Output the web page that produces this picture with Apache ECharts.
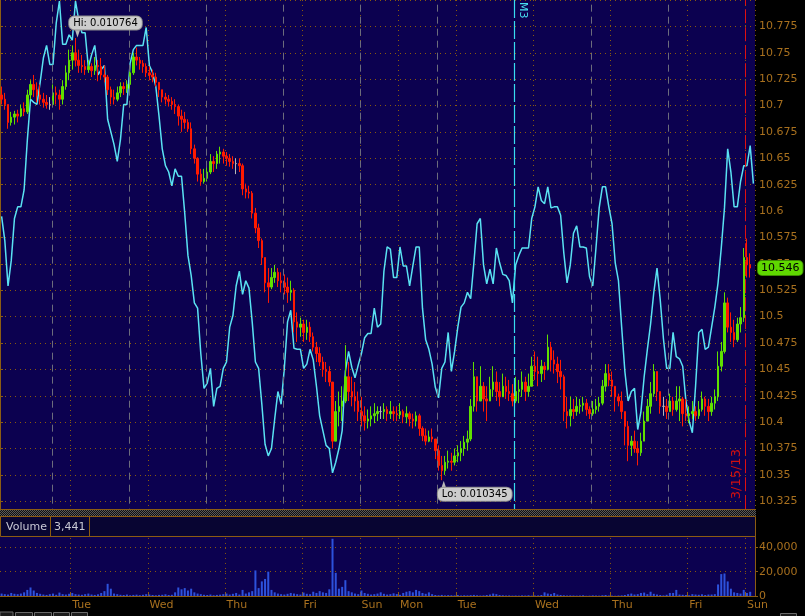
<!DOCTYPE html>
<html>
<head>
<meta charset="utf-8">
<script src="https://cdn.jsdelivr.net/npm/echarts@6.0.0/dist/echarts.min.js"></script>
<style>
html,body{margin:0;padding:0;background:#000;overflow:hidden;}
#chart{width:805px;height:616px;}
</style>
</head>
<body>
<div id="chart"></div>
<script>
// ---------------- data ----------------
const slotCount = 235;
const dayTickSlots = [22,46,70,94,112,124,142,166,190,214,232];
const dayNames = ['Tue','Wed','Thu','Fri','Sun','Mon','Tue','Wed','Thu','Fri','Sun'];
const sessionLines = [16.2,40.2,64.1,88.1,112.05,136.0,184.0,207.9];
const contractLine = 160.0;
const contractLabel = 'M3';
const expiryLine = 231.9;
const expiryLabel = '3/15/13';
const priceMin = 10.3, priceMax = 10.8, priceStep = 0.025;
const visibleBottom = 10.3175;
const volMax = 60000, volStep = 20000;

const open = [10.710,10.706,10.701,10.684,10.689,10.692,10.690,10.697,10.694,10.710,
10.720,10.715,10.710,10.706,10.703,10.701,10.701,10.712,10.710,10.706,
10.718,10.731,10.743,10.750,10.743,10.738,10.737,10.734,10.737,10.733,
10.738,10.737,10.729,10.727,10.715,10.708,10.706,10.712,10.718,10.716,
10.720,10.731,10.746,10.743,10.740,10.737,10.731,10.729,10.727,10.722,
10.715,10.708,10.706,10.704,10.701,10.699,10.690,10.687,10.684,10.678,
10.659,10.650,10.635,10.628,10.631,10.637,10.647,10.645,10.654,10.656,
10.652,10.650,10.647,10.645,10.645,10.643,10.621,10.618,10.617,10.598,
10.584,10.572,10.556,10.532,10.528,10.537,10.542,10.534,10.532,10.528,
10.523,10.525,10.495,10.490,10.493,10.485,10.490,10.481,10.471,10.465,
10.457,10.450,10.448,10.438,10.382,10.410,10.415,10.420,10.443,10.429,
10.424,10.420,10.410,10.406,10.401,10.403,10.406,10.408,10.410,10.410,
10.412,10.408,10.410,10.408,10.407,10.410,10.405,10.408,10.403,10.401,
10.406,10.394,10.387,10.382,10.386,10.384,10.373,10.359,10.354,10.362,
10.363,10.362,10.368,10.371,10.375,10.381,10.384,10.415,10.443,10.420,
10.434,10.422,10.420,10.431,10.438,10.429,10.424,10.434,10.429,10.427,
10.420,10.429,10.431,10.438,10.429,10.434,10.453,10.448,10.446,10.453,
10.450,10.471,10.459,10.455,10.448,10.443,10.410,10.406,10.412,10.410,
10.415,10.416,10.418,10.412,10.408,10.412,10.415,10.418,10.434,10.446,
10.440,10.434,10.424,10.420,10.410,10.396,10.378,10.382,10.375,10.371,
10.382,10.401,10.415,10.427,10.448,10.429,10.415,10.415,10.410,10.420,
10.412,10.420,10.422,10.408,10.406,10.408,10.410,10.406,10.412,10.422,
10.415,10.410,10.418,10.424,10.453,10.467,10.513,10.490,10.485,10.478,
10.493,10.499,10.556,10.549];

const close = [10.706,10.701,10.684,10.689,10.692,10.690,10.697,10.694,10.710,10.720,
10.715,10.710,10.706,10.703,10.701,10.701,10.712,10.710,10.706,10.718,
10.731,10.743,10.750,10.743,10.738,10.737,10.734,10.737,10.733,10.738,
10.737,10.729,10.727,10.715,10.708,10.706,10.712,10.718,10.716,10.720,
10.731,10.746,10.743,10.740,10.737,10.731,10.729,10.727,10.722,10.715,
10.708,10.706,10.704,10.701,10.699,10.690,10.687,10.684,10.678,10.659,
10.650,10.635,10.628,10.631,10.637,10.647,10.645,10.654,10.656,10.652,
10.650,10.647,10.645,10.645,10.643,10.621,10.618,10.617,10.598,10.584,
10.572,10.556,10.532,10.528,10.537,10.542,10.534,10.532,10.528,10.523,
10.525,10.495,10.490,10.493,10.485,10.490,10.481,10.471,10.465,10.457,
10.450,10.448,10.438,10.382,10.410,10.415,10.420,10.443,10.429,10.424,
10.420,10.410,10.406,10.401,10.403,10.406,10.408,10.410,10.410,10.412,
10.408,10.410,10.408,10.407,10.410,10.405,10.408,10.403,10.401,10.406,
10.394,10.387,10.382,10.386,10.384,10.373,10.359,10.354,10.362,10.363,
10.362,10.368,10.371,10.375,10.381,10.384,10.415,10.443,10.420,10.434,
10.422,10.420,10.431,10.438,10.429,10.424,10.434,10.429,10.427,10.420,
10.429,10.431,10.438,10.429,10.434,10.453,10.448,10.446,10.453,10.450,
10.471,10.459,10.455,10.448,10.443,10.410,10.406,10.412,10.410,10.415,
10.416,10.418,10.412,10.408,10.412,10.415,10.418,10.434,10.446,10.440,
10.434,10.424,10.420,10.410,10.396,10.378,10.382,10.375,10.371,10.382,
10.401,10.415,10.427,10.448,10.429,10.415,10.415,10.410,10.420,10.412,
10.420,10.422,10.408,10.406,10.408,10.410,10.406,10.412,10.422,10.415,
10.410,10.418,10.424,10.453,10.467,10.513,10.490,10.485,10.478,10.493,
10.499,10.556,10.549,10.546];

const low = [10.701,10.696,10.678,10.681,10.682,10.684,10.689,10.690,10.692,10.706,
10.708,10.703,10.701,10.698,10.697,10.696,10.699,10.701,10.696,10.701,
10.715,10.724,10.734,10.737,10.731,10.731,10.729,10.731,10.727,10.729,
10.723,10.725,10.722,10.710,10.701,10.701,10.704,10.708,10.710,10.712,
10.712,10.729,10.738,10.734,10.731,10.727,10.724,10.722,10.718,10.708,
10.703,10.701,10.699,10.696,10.692,10.681,10.675,10.678,10.675,10.654,
10.645,10.628,10.624,10.626,10.628,10.635,10.637,10.640,10.645,10.645,
10.643,10.642,10.640,10.635,10.637,10.615,10.612,10.612,10.593,10.579,
10.565,10.549,10.523,10.513,10.526,10.532,10.528,10.523,10.521,10.513,
10.515,10.485,10.476,10.481,10.476,10.478,10.476,10.467,10.457,10.453,
10.443,10.438,10.434,10.375,10.382,10.396,10.401,10.418,10.420,10.415,
10.410,10.401,10.396,10.392,10.394,10.396,10.399,10.401,10.403,10.403,
10.401,10.403,10.401,10.401,10.403,10.399,10.399,10.396,10.394,10.396,
10.387,10.382,10.378,10.381,10.381,10.365,10.354,10.345,10.350,10.356,
10.354,10.359,10.362,10.363,10.368,10.373,10.382,10.410,10.410,10.420,
10.410,10.401,10.420,10.424,10.420,10.415,10.424,10.422,10.420,10.415,
10.418,10.418,10.424,10.420,10.424,10.434,10.440,10.434,10.438,10.440,
10.449,10.448,10.446,10.437,10.431,10.401,10.394,10.396,10.403,10.406,
10.408,10.410,10.406,10.403,10.406,10.408,10.410,10.416,10.429,10.434,
10.424,10.410,10.415,10.403,10.378,10.363,10.368,10.371,10.359,10.368,
10.382,10.401,10.408,10.424,10.420,10.408,10.406,10.403,10.410,10.406,
10.410,10.401,10.396,10.401,10.399,10.403,10.401,10.403,10.410,10.406,
10.401,10.406,10.412,10.420,10.448,10.465,10.485,10.476,10.471,10.476,
10.485,10.495,10.537,10.537];

const high = [10.718,10.712,10.701,10.694,10.695,10.696,10.701,10.703,10.715,10.724,
10.729,10.722,10.720,10.712,10.710,10.708,10.720,10.718,10.715,10.724,
10.738,10.753,10.757,10.764,10.753,10.748,10.743,10.743,10.740,10.746,
10.743,10.745,10.738,10.729,10.718,10.715,10.718,10.722,10.722,10.724,
10.734,10.750,10.755,10.746,10.743,10.740,10.737,10.734,10.731,10.722,
10.715,10.712,10.710,10.708,10.706,10.701,10.696,10.694,10.687,10.684,
10.663,10.651,10.640,10.640,10.645,10.654,10.652,10.657,10.661,10.659,
10.656,10.654,10.652,10.650,10.650,10.645,10.626,10.624,10.619,10.603,
10.588,10.574,10.556,10.546,10.546,10.549,10.546,10.542,10.540,10.537,
10.534,10.527,10.504,10.499,10.497,10.497,10.495,10.485,10.476,10.471,
10.462,10.457,10.453,10.438,10.420,10.429,10.434,10.473,10.457,10.443,
10.438,10.429,10.424,10.415,10.412,10.415,10.418,10.415,10.415,10.418,
10.415,10.420,10.415,10.415,10.418,10.412,10.415,10.410,10.408,10.410,
10.408,10.396,10.394,10.392,10.394,10.384,10.378,10.368,10.368,10.373,
10.371,10.375,10.378,10.382,10.387,10.392,10.422,10.457,10.443,10.453,
10.438,10.434,10.443,10.453,10.448,10.438,10.446,10.443,10.440,10.436,
10.443,10.440,10.448,10.443,10.446,10.462,10.467,10.462,10.459,10.457,
10.483,10.476,10.468,10.462,10.459,10.445,10.424,10.424,10.422,10.424,
10.422,10.424,10.422,10.415,10.420,10.422,10.424,10.440,10.455,10.455,
10.448,10.434,10.427,10.429,10.410,10.401,10.387,10.392,10.382,10.390,
10.410,10.422,10.438,10.455,10.448,10.429,10.424,10.422,10.427,10.424,
10.434,10.434,10.424,10.422,10.415,10.420,10.415,10.420,10.429,10.424,
10.422,10.424,10.431,10.467,10.476,10.523,10.518,10.504,10.497,10.499,
10.509,10.565,10.574,10.560];

const overlay = [10.595,10.572,10.529,10.553,10.593,10.604,10.604,10.620,10.667,10.706,
10.703,10.701,10.722,10.745,10.757,10.739,10.739,10.778,10.799,10.758,
10.758,10.767,10.762,10.799,10.781,10.769,10.769,10.736,10.748,10.757,
10.729,10.734,10.738,10.687,10.675,10.663,10.647,10.668,10.701,10.701,
10.740,10.753,10.757,10.757,10.757,10.774,10.738,10.731,10.718,10.690,
10.659,10.643,10.637,10.624,10.640,10.633,10.633,10.598,10.558,10.539,
10.513,10.508,10.465,10.432,10.437,10.451,10.415,10.432,10.434,10.451,
10.457,10.490,10.501,10.529,10.543,10.521,10.534,10.527,10.495,10.457,
10.451,10.417,10.379,10.368,10.375,10.403,10.429,10.417,10.451,10.495,
10.506,10.470,10.469,10.469,10.451,10.455,10.469,10.459,10.434,10.406,
10.392,10.378,10.375,10.352,10.362,10.375,10.392,10.448,10.467,10.452,
10.442,10.454,10.465,10.480,10.484,10.484,10.508,10.490,10.493,10.543,
10.566,10.564,10.537,10.537,10.566,10.548,10.548,10.529,10.548,10.566,
10.566,10.508,10.478,10.469,10.455,10.433,10.423,10.451,10.457,10.485,
10.448,10.467,10.490,10.509,10.513,10.523,10.517,10.551,10.588,10.593,
10.549,10.531,10.545,10.531,10.565,10.551,10.540,10.539,10.534,10.513,
10.549,10.558,10.565,10.565,10.565,10.593,10.604,10.623,10.610,10.607,
10.623,10.603,10.604,10.604,10.596,10.560,10.532,10.549,10.579,10.586,
10.566,10.566,10.565,10.538,10.529,10.565,10.603,10.623,10.623,10.604,
10.588,10.551,10.534,10.490,10.448,10.420,10.429,10.432,10.393,10.410,
10.443,10.469,10.493,10.523,10.546,10.516,10.479,10.451,10.451,10.485,
10.462,10.460,10.453,10.420,10.401,10.390,10.434,10.485,10.488,10.469,
10.471,10.490,10.509,10.532,10.565,10.603,10.659,10.637,10.604,10.604,
10.628,10.643,10.643,10.662,10.626];

const volume = [2000,1500,1200,2500,1800,1500,2000,3000,5000,7000,
4500,2500,1800,1200,900,1500,2000,1000,2800,1500,
1200,1800,2500,1500,1200,1000,1500,2000,1200,900,
1400,2500,4000,10000,6000,2000,1500,1000,800,1200,
600,900,1100,700,1000,1500,1200,800,600,900,
1000,1400,800,1000,3000,7000,5500,6500,4500,6000,
3000,2000,1500,1000,800,1200,600,900,1100,1500,
2000,1200,1800,2500,1200,5000,2000,3000,4000,21000,
6500,12000,14000,20000,5000,3000,2000,1500,1200,1800,
2500,2000,1500,1200,2800,1800,1500,3500,2500,4000,
3000,2500,5500,47000,19000,6000,7500,13000,4000,3000,
2000,1500,4500,2500,1800,1200,1500,2000,3000,1800,
1200,1500,2200,1600,1000,2500,3500,4000,3000,5000,
4000,2500,1800,3000,1500,800,600,900,500,700,
600,500,800,400,600,500,700,900,600,400,
500,800,1200,2000,1500,800,600,400,500,300,
400,300,500,400,600,300,400,500,800,3000,
2000,1500,2500,1200,800,600,400,500,400,300,
400,600,200,300,500,400,300,600,800,400,
300,200,400,500,800,1500,2000,1200,1500,2500,
2800,1500,3500,1800,1200,800,500,1000,2500,2500,
5000,1200,1000,800,600,1500,1200,1000,1400,800,
1200,1200,1500,9500,18000,18500,12000,6000,3000,2500,
2000,5000,2500,3441];

// ---------------- styles ----------------
const FONT = 'DejaVu Sans';
const NAVY = '#0c0150';
const AXIS = '#8c5c12';
const DOT = '#8a5a0c';
const LABEL = '#a8701e';
const UP = '#5fe000', DOWN = '#ff1a00', FLAT = '#b8b8b8';
const CYAN = '#5ae2f2';
const VOLC = '#2d52dc';

const cats = Array.from({length: slotCount}, (_, i) => String(i));
const isDay = (i) => dayTickSlots.indexOf(i) !== -1;
const dayName = (i) => dayNames[dayTickSlots.indexOf(i)] || '';

const candles = close.map((c, i) => {
  const v = [open[i], c, low[i], high[i]];
  if (open[i] === c) {
    return {value: v, itemStyle: {color: FLAT, color0: FLAT, borderColor: FLAT, borderColor0: FLAT}};
  }
  return v;
});
const lastClose = close[close.length - 1];
const lastVolume = volume[volume.length - 1];

const chart = echarts.init(document.getElementById('chart'), null, {renderer: 'canvas'});

// hatched separator pattern
const pat = document.createElement('canvas');
pat.width = 2; pat.height = 2;
const pg = pat.getContext('2d');
pg.fillStyle = '#101010'; pg.fillRect(0, 0, 2, 2);
pg.fillStyle = '#5a5a5a'; pg.fillRect(0, 0, 1, 1); pg.fillRect(1, 1, 1, 1);

const tagLabel = {
  show: true, position: 'inside', color: '#000', fontSize: 10, fontFamily: FONT,
  backgroundColor: '#cdcdcd', borderColor: '#8c8c8c', borderWidth: 1, borderRadius: 5,
  padding: [2, 4, 1, 4]
};

const option = {
  animation: false,
  backgroundColor: '#000',
  textStyle: {fontFamily: FONT},
  grid: [
    {left: 0, top: -5.65, width: 755, height: 533.33, show: true, backgroundColor: NAVY, borderWidth: 0},
    {left: 0, top: 522.95, width: 755, height: 73.05, show: true, backgroundColor: NAVY, borderWidth: 0}
  ],
  xAxis: [
    {type: 'category', gridIndex: 0, data: cats, boundaryGap: true,
     axisLine: {show: false}, axisTick: {show: false}, axisLabel: {show: false},
     splitLine: {show: true, interval: isDay, lineStyle: {color: DOT, type: [1, 4], width: 1}}},
    {type: 'value', gridIndex: 0, min: 0, max: slotCount, show: false},
    {type: 'category', gridIndex: 1, data: cats, boundaryGap: true,
     axisLine: {show: true, lineStyle: {color: AXIS, width: 1}},
     axisTick: {show: true, inside: true, length: 4, interval: isDay, lineStyle: {color: AXIS}},
     axisLabel: {show: true, interval: isDay, formatter: (v, i) => dayName(Number(v)),
       color: LABEL, fontSize: 11, fontFamily: FONT, align: 'left', margin: 4},
     splitLine: {show: true, interval: isDay, lineStyle: {color: DOT, type: [1, 4], width: 1}}}
  ],
  yAxis: [
    {type: 'value', gridIndex: 0, position: 'right', min: priceMin, max: priceMax, interval: priceStep,
     axisLine: {show: true, lineStyle: {color: AXIS, width: 1}},
     axisTick: {show: true, length: 3, lineStyle: {color: AXIS}},
     axisLabel: {color: LABEL, fontSize: 11, fontFamily: FONT, margin: 4, showMinLabel: false, showMaxLabel: false},
     splitLine: {show: true, lineStyle: {color: DOT, type: [1, 4], width: 1}}},
    {type: 'value', gridIndex: 1, position: 'right', min: 0, max: volMax, interval: volStep,
     axisLine: {show: true, lineStyle: {color: AXIS, width: 1}},
     axisTick: {show: true, length: 3, lineStyle: {color: AXIS}},
     axisLabel: {color: LABEL, fontSize: 11, fontFamily: FONT, margin: 4, showMaxLabel: false,
       formatter: (v) => v.toLocaleString('en-US')},
     splitLine: {show: true, lineStyle: {color: DOT, type: [1, 4], width: 1}}}
  ],
  series: [
    {
      name: 'sessions', type: 'line', xAxisIndex: 1, yAxisIndex: 0, data: [], silent: true,
      markLine: {
        silent: true, symbol: ['none', 'none'], animation: false, precision: 3,
        label: {show: false},
        lineStyle: {color: '#6c6c7c', type: [7, 5], width: 1},
        data: sessionLines.map(v => ({xAxis: v})).concat([
          [{xAxis: contractLine, yAxis: priceMax,
            lineStyle: {color: '#38dcef', type: [18, 3], width: 1.2},
            label: {show: true, formatter: contractLabel, position: 'insideStartTop',
              color: '#48e0f0', fontSize: 11, fontFamily: FONT, distance: [2, 3]}},
           {xAxis: contractLine, yAxis: visibleBottom}],
          [{xAxis: expiryLine, yAxis: visibleBottom,
            lineStyle: {color: '#e01010', type: [14, 4], width: 1},
            label: {show: true, formatter: expiryLabel, position: 'insideStartTop',
              color: '#d01010', fontSize: 13, fontFamily: FONT, distance: [10, 2]}},
           {xAxis: expiryLine, yAxis: priceMax}]
        ])
      }
    },
    {
      name: 'lastPrice', type: 'line', xAxisIndex: 1, yAxisIndex: 0, data: [], silent: true, clip: false,
      markLine: {
        silent: true, symbol: ['none', 'none'], animation: false, precision: 3,
        lineStyle: {color: 'rgba(0,0,0,0)', width: 0},
        data: [{yAxis: lastClose}],
        label: {show: true, position: 'end', distance: 3,
          formatter: (p) => Number(p.value).toFixed(3),
          color: '#000', backgroundColor: '#5fd800', borderColor: '#3c8a00', borderWidth: 1,
          borderRadius: 4, padding: [2, 3, 1, 3], fontSize: 11, fontFamily: FONT}
      }
    },
    {
      name: 'overlay', type: 'line', xAxisIndex: 0, yAxisIndex: 0, data: overlay,
      showSymbol: false, symbol: 'none', z: 3,
      lineStyle: {color: CYAN, width: 1.5}
    },
    {
      name: 'price', type: 'candlestick', xAxisIndex: 0, yAxisIndex: 0, data: candles, z: 4,
      barWidth: 2,
      itemStyle: {color: UP, color0: DOWN, borderColor: UP, borderColor0: DOWN, borderWidth: 1},
      markPoint: {
        silent: true, animation: false,
        data: [
          {type: 'max', valueDim: 'highest', symbol: 'triangle', symbolSize: [6, 9], symbolRotate: 180,
           symbolOffset: [2, -5], itemStyle: {color: '#b8b8b8'}, label: {show: false}},
          {type: 'min', valueDim: 'lowest', symbol: 'triangle', symbolSize: [6, 9],
           symbolOffset: [2, 5], itemStyle: {color: '#b8b8b8'}, label: {show: false}},
          {type: 'max', valueDim: 'highest', symbol: 'rect', symbolSize: 1, itemStyle: {color: 'rgba(0,0,0,0)'},
           label: Object.assign({}, tagLabel, {offset: [30, -15],
             formatter: (p) => 'Hi: ' + (p.value / 1000).toFixed(6)})},
          {type: 'min', valueDim: 'lowest', symbol: 'rect', symbolSize: 1, itemStyle: {color: 'rgba(0,0,0,0)'},
           label: Object.assign({}, tagLabel, {offset: [33, 14],
             formatter: (p) => 'Lo: ' + (p.value / 1000).toFixed(6)})}
        ]
      }
    },
    {
      name: 'volume', type: 'bar', xAxisIndex: 2, yAxisIndex: 1, data: volume,
      barWidth: 2, itemStyle: {color: VOLC}
    }
  ],
  graphic: [
    {type: 'rect', z: 100, silent: true, shape: {x: 756, y: 509, width: 49, height: 28}, style: {fill: '#000'}},
    {type: 'rect', z: 100, silent: true, shape: {x: 0, y: 509, width: 756, height: 1}, style: {fill: AXIS}},
    {type: 'rect', z: 100, silent: true, shape: {x: 0, y: 510, width: 756, height: 6},
     style: {fill: {image: pat, repeat: 'repeat'}}},
    {type: 'rect', z: 101, silent: true, shape: {x: 0.5, y: 516.5, width: 755, height: 20},
     style: {fill: '#080532', stroke: AXIS, lineWidth: 1}},
    {type: 'line', z: 102, silent: true, shape: {x1: 50.5, y1: 517, x2: 50.5, y2: 536}, style: {stroke: AXIS, lineWidth: 1}},
    {type: 'line', z: 102, silent: true, shape: {x1: 89.5, y1: 517, x2: 89.5, y2: 536}, style: {stroke: AXIS, lineWidth: 1}},
    {type: 'text', z: 103, silent: true, x: 6, y: 527,
     style: {text: 'Volume', fill: '#c8c8d4', font: '11px "DejaVu Sans"', verticalAlign: 'middle'}},
    {type: 'text', z: 103, silent: true, x: 54, y: 527,
     style: {text: lastVolume.toLocaleString('en-US'), fill: '#c8c8d4', font: '11px "DejaVu Sans"', verticalAlign: 'middle'}},
    {type: 'rect', z: 100, silent: true, shape: {x: 0, y: 612, width: 13, height: 6}, style: {fill: '#1c1c1c', stroke: '#6a6a6a'}},
    {type: 'rect', z: 100, silent: true, shape: {x: 15.5, y: 612.5, width: 17, height: 6}, style: {fill: '#1c1c1c', stroke: '#6a6a6a'}},
    {type: 'rect', z: 100, silent: true, shape: {x: 34.5, y: 612.5, width: 17, height: 6}, style: {fill: '#1c1c1c', stroke: '#6a6a6a'}},
    {type: 'rect', z: 100, silent: true, shape: {x: 53.5, y: 612.5, width: 16, height: 6}, style: {fill: '#1c1c1c', stroke: '#6a6a6a'}},
    {type: 'rect', z: 100, silent: true, shape: {x: 71.5, y: 612.5, width: 16, height: 6}, style: {fill: '#1c1c1c', stroke: '#6a6a6a'}},
    {type: 'rect', z: 100, silent: true, shape: {x: 780.5, y: 613.5, width: 16, height: 6}, style: {fill: '#1c1c1c', stroke: '#6a6a6a'}}
  ]
};

chart.setOption(option);
</script>
</body>
</html>
